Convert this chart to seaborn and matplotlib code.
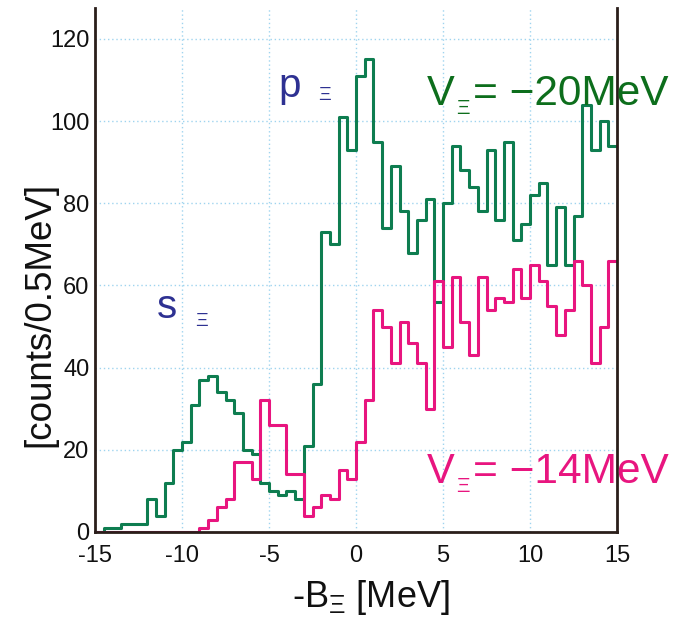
import numpy as np
import pandas as pd
import matplotlib
matplotlib.use("Agg")
import matplotlib.pyplot as plt
from matplotlib.ticker import MultipleLocator
import seaborn as sns

# ---------------- data ----------------
bin_edges = [-15.0 + 0.5 * i for i in range(61)]   # 0.5 MeV bins
counts_v20 = [0, 1, 1, 2, 2, 2, 8, 4, 12, 20,
              22, 31, 37, 38, 34, 32, 29, 20, 19, 12,
              10, 9, 10, 8, 21, 36, 73, 70, 101, 93,
              111, 115, 95, 74, 89, 78, 68, 76, 81, 56,
              80, 94, 88, 84, 78, 93, 76, 95, 71, 75,
              82, 85, 65, 79, 65, 77, 104, 93, 100, 94]
counts_v14 = [0, 0, 0, 0, 0, 0, 0, 0, 0, 0,
              0, 0, 1, 3, 6, 8, 17, 17, 13, 32,
              26, 26, 14, 14, 4, 6, 9, 8, 15, 13,
              22, 32, 54, 50, 41, 51, 46, 41, 30, 61,
              45, 62, 51, 43, 62, 54, 57, 56, 64, 57,
              65, 61, 55, 48, 54, 66, 60, 41, 50, 66]
x_ticks = [-15, -10, -5, 0, 5, 10, 15]
y_ticks = [0, 20, 40, 60, 80, 100, 120]

centers = [(a + b) / 2 for a, b in zip(bin_edges[:-1], bin_edges[1:])]
df = pd.DataFrame({
    "B": centers + centers,
    "counts": counts_v20 + counts_v14,
    "V": ["-20"] * len(counts_v20) + ["-14"] * len(counts_v14),
})

# ---------------- style ----------------
sns.set_style("white")
plt.rcParams["font.family"] = ["Liberation Sans", "DejaVu Sans"]
plt.rcParams["axes.unicode_minus"] = False
plt.rcParams["mathtext.fontset"] = "custom"
plt.rcParams["mathtext.rm"] = "Liberation Sans"
plt.rcParams["mathtext.it"] = "Liberation Sans:italic"
plt.rcParams["mathtext.bf"] = "Liberation Sans:bold"

GREEN = "#0e7d50"
GREEN_TXT = "#0d6e1c"
PINK = "#e8157f"
BLUE = "#2e3192"
SPINE = "#2a1e1a"
GRID = "#9fd4ef"

W, H = 683, 619
fig = plt.figure(figsize=(W / 100, H / 100), dpi=100)
L, R, T, B = 95, 617, 8, 532
ax = fig.add_axes([L / W, 1 - B / H, (R - L) / W, (B - T) / H])

for key, col in [("-20", GREEN), ("-14", PINK)]:
    sub = df[df["V"] == key].reset_index(drop=True)
    sns.histplot(data=sub, x="B", weights="counts",
                 bins=bin_edges, element="step", fill=False,
                 color=col, linewidth=2.2, ax=ax)

ax.set_xlim(-15, 15)
ax.set_ylim(0, 127.5)
ax.set_xticks(x_ticks)
ax.set_xticklabels([str(v) for v in x_ticks])
ax.set_yticks(y_ticks)
ax.xaxis.set_minor_locator(MultipleLocator(1))
ax.yaxis.set_minor_locator(MultipleLocator(5))
ax.tick_params(axis="both", which="both", direction="in", color=SPINE,
               labelsize=17, labelcolor="#111111")
ax.tick_params(axis="both", which="major", length=6, width=1.6)
ax.tick_params(axis="both", which="minor", length=4, width=1.3)
ax.tick_params(axis="x", which="major", pad=9)
ax.tick_params(axis="y", which="major", pad=4)
ax.tick_params(top=False, right=False, which="both")

ax.grid(True, which="major", color=GRID, linestyle=(0, (1, 2)), linewidth=1.0)
ax.set_axisbelow(True)

for s in ["left", "bottom", "right"]:
    ax.spines[s].set_color(SPINE)
    ax.spines[s].set_linewidth(2.0)
ax.spines["top"].set_visible(False)

ax.set_xlabel(r"-B$_{\Xi}$ [MeV]", fontsize=26, color="#111111")
ax.xaxis.set_label_coords(0.528, -0.088)
ax.set_ylabel("[counts/0.5MeV]", fontsize=26.5, color="#111111")
ax.yaxis.set_label_coords(-0.073, 0.416)


def px(x, y):
    return x / W, 1 - y / H


# annotations
fig.text(*px(278, 97), "p", fontsize=29, color=BLUE, va="baseline", ha="left")
fig.text(*px(318, 95), "Ξ", fontsize=14, color=BLUE, va="center", ha="left")
fig.text(*px(157, 318), "s", fontsize=29, color=BLUE, va="baseline", ha="left")
fig.text(*px(195, 322), "Ξ", fontsize=14, color=BLUE, va="center", ha="left")

fig.text(*px(427, 105), "V", fontsize=30, color=GREEN_TXT, va="baseline", ha="left")
fig.text(*px(456, 109), "Ξ", fontsize=15, color=GREEN_TXT, va="center", ha="left")
fig.text(*px(473, 105), "= \u221220MeV", fontsize=30.5, color=GREEN_TXT, va="baseline", ha="left")

fig.text(*px(427, 483), "V", fontsize=30, color=PINK, va="baseline", ha="left")
fig.text(*px(456, 487), "Ξ", fontsize=15, color=PINK, va="center", ha="left")
fig.text(*px(473, 483), "= \u221214MeV", fontsize=30.5, color=PINK, va="baseline", ha="left")

fig.savefig("out.png", dpi=100)
